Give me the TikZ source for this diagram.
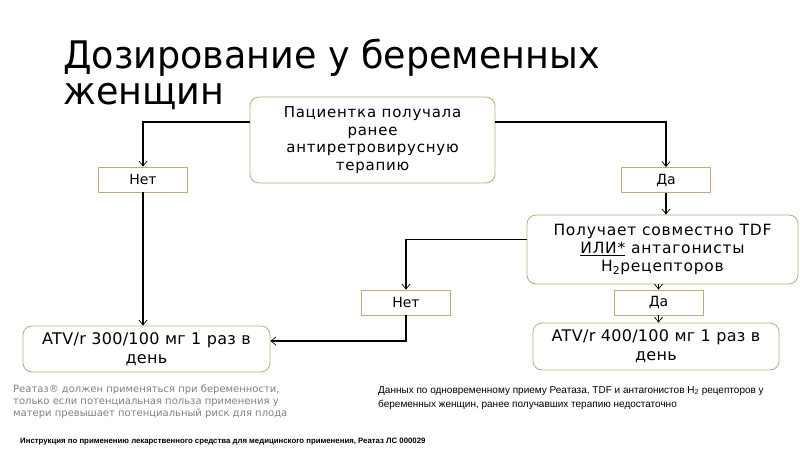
\documentclass[tikz,border=0pt]{standalone}
\usepackage{fontspec}
\setmainfont{DejaVu Sans}
\newfontfamily\titlefont[FakeStretch=0.96]{DejaVu Sans}
\newfontfamily\boxfont[LetterSpace=5]{DejaVu Sans}
\newfontfamily\dosefont[LetterSpace=2]{DejaVu Sans}
\newfontfamily\notefont{Liberation Sans}
\usetikzlibrary{arrows.meta, positioning}
\definecolor{boxline}{RGB}{196,168,124}
\definecolor{notegray}{RGB}{128,128,128}

\begin{document}
\begin{tikzpicture}[x=1pt, y=-1pt,
                    >={Straight Barb[length=5pt, width=8pt, line width=0.7pt]},
                    every node/.style={inner sep=0pt, align=center},
                    qbox/.style={draw=boxline, line width=0.8pt, rounded corners=9pt,
                                 fill=white, font=\boxfont\fontsize{15}{17.5}\selectfont},
                    abox/.style={draw=boxline, line width=0.8pt, fill=white,
                                 minimum width=89pt, minimum height=25pt,
                                 font=\fontsize{14}{15}\selectfont},
                    dose/.style={qbox, font=\dosefont\fontsize{16}{19}\selectfont},
                    link/.style={line width=1.6pt}]
  \useasboundingbox (0,0) rectangle (800,449);
  % title
  \node[anchor=north west, align=left, font=\titlefont\fontsize{38}{36}\selectfont]
        (title) at (63,39) {Дозирование у беременных\\женщин};
  % questions
  \node[qbox, minimum width=245pt, minimum height=86pt] (q1) at (372.5,140)
        {Пациентка получала\\ранее\\антиретровирусную\\терапию};
  \node[qbox, font=\boxfont\fontsize{15.5}{18}\selectfont, minimum width=271pt, minimum height=69pt]
        (q2) at (662.5,249.5)
        {Получает совместно TDF\\\underline{ИЛИ*} антагонисты\\H\textsubscript{2}рецепторов};
  % answers
  \node[abox] (no1)  at (143,179.5) {Нет};
  \node[abox] (yes1) at (666,180)   {Да};
  \node[abox] (no2)  at (406,302.5) {Нет};
  \node[abox] (yes2) at (658.5,302.5) {Да};
  % doses
  \node[dose, minimum width=247pt, minimum height=46pt] (d300) at (146.5,349)
        {ATV/r 300/100 мг 1 раз в\\день};
  \node[dose, minimum width=246pt, minimum height=47pt] (d400) at (656,346.5)
        {ATV/r 400/100 мг 1 раз в\\день};
  % connectors
  \draw[link, ->] ([yshift=18pt]q1.west) -| (no1.north);
  \draw[link, ->] ([yshift=18pt]q1.east) -| (yes1.north);
  \draw[link, ->] (yes1.south) -- (yes1.south |- q2.north);
  \draw[link, ->] ([yshift=10pt]q2.west) -| (no2.north);
  \draw[link, ->] (yes2.north |- q2.south) -- (yes2.north);
  \draw[link, ->] (yes2.south) -- (yes2.south |- d400.north);
  \draw[link, ->] (no1.south) -- (no1.south |- d300.north);
  \draw[link, ->] (no2.south) |- ([yshift=8pt]d300.east);
  % notes
  \node[anchor=north west, align=left, text=notegray, font=\fontsize{10}{12}\selectfont]
        (warn) at (13,385)
        {Реатаз® должен применяться при беременности,\\
         только если потенциальная польза применения у\\
         матери превышает потенциальный риск для плода};
  \node[anchor=north west, align=left, font=\notefont\fontsize{10}{14}\selectfont]
        (data) at (378,386)
        {Данных по одновременному приему Реатаза, TDF и антагонистов H\textsubscript{2} рецепторов у\\
         беременных женщин, ранее получавших терапию недостаточно};
  \node[anchor=base west, font=\notefont\bfseries\fontsize{7.8}{9}\selectfont]
        (src) at (20,443)
        {Инструкция по применению лекарственного средства для медицинского применения, Реатаз ЛС 000029};
\end{tikzpicture}
\end{document}
